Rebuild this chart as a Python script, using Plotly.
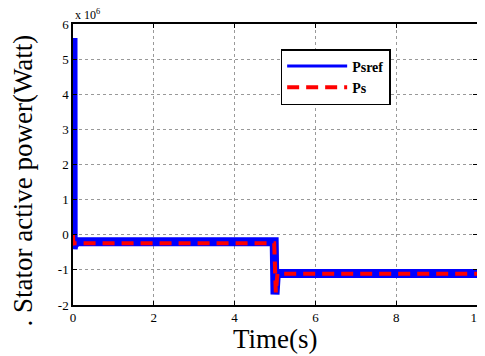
import plotly.graph_objects as go

# Values in units of 10^6 W (as the axis shows "x 10^6")
t_psref = [0, 0.004, 0.02, 0.1, 4.98, 5.0, 5.03, 5.1, 10]
psref = [5.6, -0.4, -0.3, -0.2, -0.2, -1.7, -1.15, -1.1, -1.1]

t_ps = [0, 0.01, 0.05, 4.98, 5.02, 5.06, 10]
ps = [0.0, -0.25, -0.24, -0.24, -1.65, -1.11, -1.11]

xticks = [0, 2, 4, 6, 8, 10]
yticks = [-2, -1, 0, 1, 2, 3, 4, 5, 6]

serif = "Liberation Serif"

fig = go.Figure()
fig.add_trace(go.Scatter(x=t_psref, y=psref, mode="lines", name="Psref", showlegend=False,
                         line=dict(color="#0000ff", width=9)))
fig.add_trace(go.Scatter(x=t_ps, y=ps, mode="lines", name="Ps", showlegend=False,
                         line=dict(color="#ff0000", width=4, dash="12px,7px")))
# legend entries (thin sample lines, as in the reference legend)
fig.add_trace(go.Scatter(x=[None], y=[None], mode="lines", name="Psref",
                         line=dict(color="#0000ff", width=3)))
fig.add_trace(go.Scatter(x=[None], y=[None], mode="lines", name="Ps",
                         line=dict(color="#ff0000", width=4, dash="12px,7px")))

# the page body adds an 8px offset, so margins are shifted accordingly
fig.update_layout(
    width=477, height=348,
    margin=dict(l=65, r=8, t=16, b=51),
    paper_bgcolor="white", plot_bgcolor="white",
    font=dict(family=serif, color="black", size=12),
    showlegend=True,
    legend=dict(x=0.514, y=0.911, xanchor="left", yanchor="top",
                bgcolor="white", bordercolor="black", borderwidth=1.5,
                font=dict(family=serif, size=14, color="black", weight="bold"),
                tracegroupgap=0, itemwidth=60),
)
axis_common = dict(showgrid=True, gridcolor="#999999", griddash="dot", gridwidth=1,
                   zeroline=False, showline=True, linecolor="black", linewidth=1.5,
                   mirror="ticks", ticks="inside", ticklen=4, tickcolor="black",
                   tickfont=dict(family=serif, size=13), automargin=False)
fig.update_xaxes(range=[0, 10], tickvals=xticks, ticktext=[str(v) for v in xticks], **axis_common)
fig.update_yaxes(range=[-2, 6], tickvals=yticks, ticktext=[str(v) for v in yticks], **axis_common)

fig.add_annotation(text="x 10<sup>6</sup>", xref="paper", yref="paper", x=0, y=1.0,
                   xanchor="left", yanchor="bottom", showarrow=False, yshift=0,
                   font=dict(family=serif, size=12))
fig.add_annotation(text="Time(s)", xref="paper", yref="paper", x=0.5, y=0,
                   xanchor="center", yanchor="top", showarrow=False, yshift=-17,
                   font=dict(family=serif, size=27))
fig.add_annotation(text=". Stator active power(Watt)", xref="paper", yref="paper", x=0, y=0.443,
                   xanchor="center", yanchor="middle", showarrow=False, textangle=-90, xshift=-50,
                   font=dict(family=serif, size=27))

fig.write_html("out.html")
